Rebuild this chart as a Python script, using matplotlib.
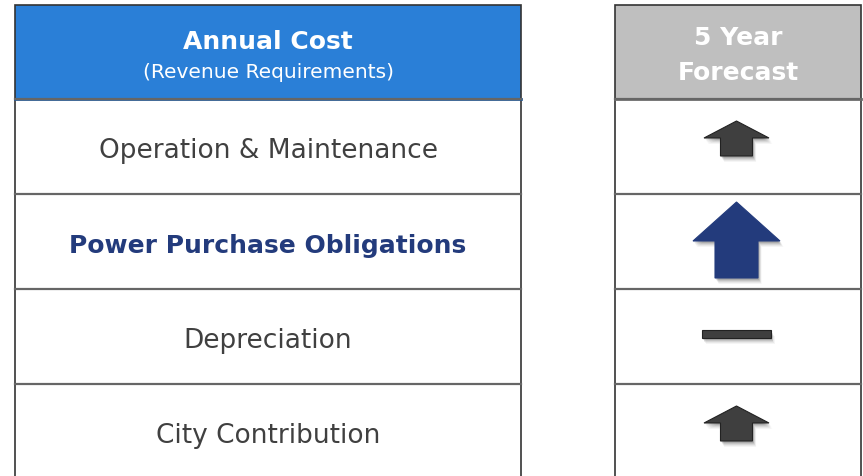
import matplotlib.pyplot as plt
from matplotlib.patches import Rectangle, Polygon

# data
cost_items = ["Operation & Maintenance", "Power Purchase Obligations",
              "Depreciation", "City Contribution"]
forecast = ["up", "up_big", "flat", "up"]
highlight = [False, True, False, False]
header_left = "Annual Cost"
header_left_sub = "(Revenue Requirements)"
header_right = ["5 Year", "Forecast"]

W, H = 863, 477
fig = plt.figure(figsize=(W / 100, H / 100), dpi=100)
ax = fig.add_axes([0, 0, 1, 1])
ax.set_xlim(0, W)
ax.set_ylim(H, 0)
ax.axis("off")

FONT = "DejaVu Sans"
TXT = "#404040"
NAVY = "#233B7C"
DARK = "#3F3F3F"
EDGE = "#333333"

# column geometry (pixels)
lx0, lx1 = 15, 521
rx0, rx1 = 615, 861
top, head_h, row_h = 6, 94, 95

# header cells
ax.add_patch(Rectangle((lx0, top), lx1 - lx0, head_h, fc="#2A7FD7", ec=EDGE, lw=1.2))
ax.add_patch(Rectangle((rx0, top), rx1 - rx0, head_h, fc="#BFBFBF", ec=EDGE, lw=1.2))
ax.text((lx0 + lx1) / 2, 42, header_left, color="white", fontsize=18,
        fontweight="bold", ha="center", va="center", family=FONT)
ax.text((lx0 + lx1) / 2, 73, header_left_sub, color="white", fontsize=14.5,
        ha="center", va="center", family=FONT)
for j, line in enumerate(header_right):
    ax.text((rx0 + rx1) / 2, 38 + j * 35, line, color="white", fontsize=18,
            fontweight="bold", ha="center", va="center", family=FONT)
# darker bottom edge on headers
ax.plot([lx0, lx1], [top + head_h, top + head_h], color="#2B5C94", lw=2)
ax.plot([rx0, rx1], [top + head_h, top + head_h], color="#6E6E6E", lw=2)


def shape(kind, cx, cy):
    if kind == "up_big":
        hw, sw, hh, sh = 43.5, 21.5, 39, 37
    elif kind == "up":
        hw, sw, hh, sh = 32.5, 16, 17, 18
    else:
        return [(cx - 34.5, cy - 4), (cx + 34.5, cy - 4), (cx + 34.5, cy + 4), (cx - 34.5, cy + 4)]
    tip = cy - (hh + sh) / 2
    base = tip + hh
    bot = base + sh
    return [(cx, tip), (cx + hw, base), (cx + sw, base), (cx + sw, bot),
            (cx - sw, bot), (cx - sw, base), (cx - hw, base)]


# vertical offset of each symbol from its row centre
sym_offset = {"up": -8, "up_big": -1.5, "flat": -2.5}

cx = 736.5
for i, (label, kind, hl) in enumerate(zip(cost_items, forecast, highlight)):
    y0 = top + head_h + i * row_h
    ax.add_patch(Rectangle((lx0, y0), lx1 - lx0, row_h, fc="white", ec=EDGE, lw=1.2))
    ax.add_patch(Rectangle((rx0, y0), rx1 - rx0, row_h, fc="white", ec=EDGE, lw=1.2))
    ax.plot([lx0, lx1], [y0, y0], color="#666666", lw=1.6)
    ax.plot([rx0, rx1], [y0, y0], color="#666666", lw=1.6)
    cy = y0 + row_h / 2
    ax.text((lx0 + lx1) / 2, cy + 4, label, fontsize=18 if hl else 19,
            fontweight="bold" if hl else "normal", color=NAVY if hl else TXT,
            ha="center", va="center", family=FONT)
    pts = shape(kind, cx, cy + sym_offset[kind])
    # soft shadow
    for k, a in [(6, 0.04), (5, 0.05), (4, 0.07), (3, 0.09), (2, 0.12)]:
        ax.add_patch(Polygon([(x + k * 0.6, y + k) for x, y in pts], fc="black",
                             ec="none", alpha=a))
    ax.add_patch(Polygon(pts, fc=NAVY if kind == "up_big" else DARK,
                         ec="#222222" if kind != "up_big" else NAVY, lw=0.8))

fig.savefig("out.png", dpi=100)
